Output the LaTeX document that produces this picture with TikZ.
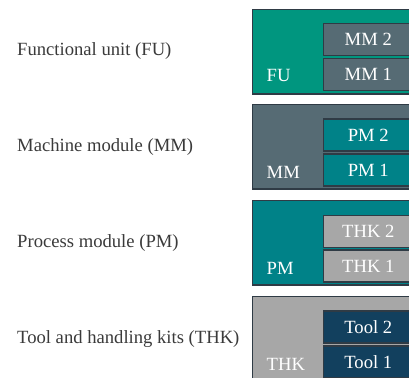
\documentclass[tikz,border=0pt]{standalone}
\usepackage{fontspec}
\setmainfont{Liberation Serif}
\definecolor{cfu}{HTML}{00967F}
\definecolor{cmm}{HTML}{566B74}
\definecolor{cpm}{HTML}{008288}
\definecolor{cthk}{HTML}{A7A7A7}
\definecolor{ctool}{HTML}{12405E}
\definecolor{cborder}{HTML}{2F3B45}
\definecolor{ctext}{HTML}{3A3A3A}
\tikzset{
  outerbox/.style={draw=cborder, line width=1.6bp, minimum width=163bp, minimum height=84.5bp, anchor=north west, inner sep=0pt, outer sep=0pt},
  innerbox/.style={draw=cborder, line width=1.6bp, minimum width=90bp, minimum height=32bp, anchor=north west, inner sep=0pt, outer sep=0pt, text=white, font=\fontsize{18.7}{22}\selectfont},
  boxlabel/.style={anchor=base west, text=white, inner sep=0pt, font=\fontsize{18.7}{22}\selectfont},
  desc/.style={anchor=west, text=ctext, inner sep=0pt, font=\fontsize{18.7}{22}\selectfont},
}
\begin{document}
\begin{tikzpicture}[x=1bp, y=-1bp]
\useasboundingbox (0,0) rectangle (409,378);
\clip (0,0) rectangle (409,378);
% FU
\node[outerbox, fill=cfu] (fu) at (252.3,9.3) {};
\node[innerbox, fill=cmm] (fu2) at (323.3,23.5) {MM 2};
\node[innerbox, fill=cmm] (fu1) at (323.3,58.5) {MM 1};
\node[boxlabel] (fulab) at (266.5,81.7) {FU};
\node[desc] (fud) at (17,51.5) {Functional unit (FU)};
% MM
\node[outerbox, fill=cmm] (mm) at (252.3,104.6) {};
\node[innerbox, fill=cpm] (mm2) at (323.3,119.1) {PM 2};
\node[innerbox, fill=cpm] (mm1) at (323.3,154.1) {PM 1};
\node[boxlabel] (mmlab) at (266.5,178.3) {MM};
\node[desc] (mmd) at (17,147) {Machine module (MM)};
% PM
\node[outerbox, fill=cpm] (pm) at (252.3,200.6) {};
\node[innerbox, fill=cthk] (pm2) at (323.3,215.3) {THK 2};
\node[innerbox, fill=cthk] (pm1) at (323.3,250.1) {THK 1};
\node[boxlabel] (pmlab) at (266.5,274) {PM};
\node[desc] (pmd) at (17,243) {Process module (PM)};
% THK
\node[outerbox, fill=cthk] (thk) at (252.3,296.6) {};
\node[innerbox, fill=ctool] (thk2) at (323.3,311.1) {Tool 2};
\node[innerbox, fill=ctool] (thk1) at (323.3,346.1) {Tool 1};
\node[boxlabel] (thklab) at (266.5,370) {THK};
\node[desc] (thkd) at (17,339) {Tool and handling kits (THK)};
\end{tikzpicture}
\end{document}
